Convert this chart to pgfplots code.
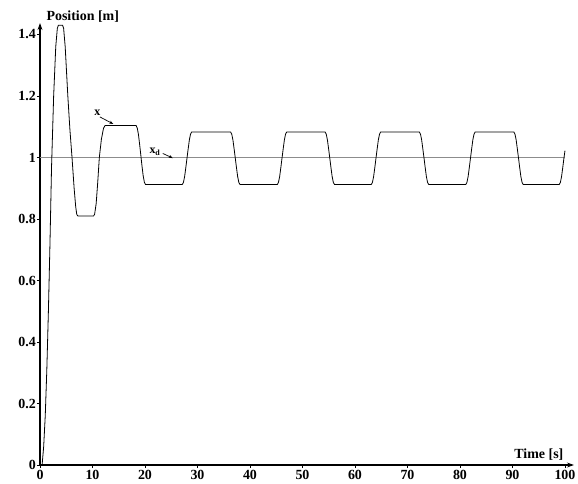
\documentclass[border=0pt]{standalone}
\usepackage{pgfplots}
\pgfplotsset{compat=1.18}
\usepackage{fontspec}
\setmainfont{Liberation Serif}
\usetikzlibrary{arrows.meta}

\begin{document}
\begin{tikzpicture}
\begin{axis}[
  at={(0,0)}, anchor=origin,
  scale only axis,
  width=533.9bp, height=441.9bp,
  xmin=0, xmax=101.7, ymin=0, ymax=1.437,
  axis lines=left,
  axis line style={line width=2.2bp, -{Stealth[length=7bp,width=5bp]}},
  xtick={0,10,20,30,40,50,60,70,80,90,100},
  ytick={0,0.2,0.4,0.6,0.8,1,1.2,1.4},
  tick align=outside,
  major tick length=3bp,
  tick style={black, line width=0.8bp},
  /pgf/number format/assume math mode=true,
  ticklabel style={font=\fontsize{14}{16}\selectfont\bfseries},
  yticklabel style={inner sep=1bp},
  xticklabel style={inner sep=1bp, yshift=-1bp},
  clip=false,
  ylabel={Position [m]},
  ylabel style={rotate=-90, at={(axis description cs:0,1)}, anchor=base west, xshift=3bp, yshift=3bp, font=\fontsize{14}{16}\selectfont\bfseries},
  xlabel={Time [s]},
  xlabel style={at={(axis description cs:1,0)}, anchor=base east, xshift=-7bp, yshift=7bp, font=\fontsize{14}{16}\selectfont\bfseries},
]
% reference x_d
\addplot[color={rgb,255:red,140;green,140;blue,140}, line width=1.4bp] coordinates {(0,1) (100,1)};
% response x
\addplot[black, line width=0.8bp] coordinates {
(0,0) (0.4,0) (0.7,0.06) (1.0,0.16) (1.3,0.31) (1.6,0.50) (1.9,0.72) (2.2,0.97) (2.6,1.20) (3.0,1.36) (3.3,1.42) (3.5,1.43) (4.3,1.43) (4.5,1.42) (4.8,1.36) (5.3,1.20) (5.7,1.09) (6.1,1.00) (6.5,0.90) (6.8,0.84) (7.0,0.815) (7.2,0.81)
(10.2,0.81) (10.4,0.815) (10.7,0.85) (11.0,0.92) (11.3,1.00) (11.7,1.06) (12.1,1.095) (12.4,1.104)
(18.3,1.104) (18.525,1.096) (18.75,1.075) (18.975,1.043) (19.2,1.008) (19.425,0.973) (19.65,0.941) (19.875,0.920) (20.1,0.912)
(27.1,0.912) (27.325,0.919) (27.55,0.938) (27.775,0.967) (28.0,0.998) (28.225,1.028) (28.45,1.057) (28.675,1.076) (28.9,1.083)
(36.3,1.083) (36.525,1.076) (36.75,1.057) (36.975,1.028) (37.2,0.998) (37.425,0.967) (37.65,0.938) (37.875,0.919) (38.1,0.912)
(45.2,0.912) (45.425,0.919) (45.65,0.938) (45.875,0.967) (46.1,0.998) (46.325,1.028) (46.55,1.057) (46.775,1.076) (47.0,1.083)
(54.3,1.083) (54.525,1.076) (54.75,1.057) (54.975,1.028) (55.2,0.998) (55.425,0.967) (55.65,0.938) (55.875,0.919) (56.1,0.912)
(63.1,0.912) (63.325,0.919) (63.55,0.938) (63.775,0.967) (64.0,0.998) (64.225,1.028) (64.45,1.057) (64.675,1.076) (64.9,1.083)
(72.25,1.083) (72.475,1.076) (72.7,1.057) (72.925,1.028) (73.15,0.998) (73.375,0.967) (73.6,0.938) (73.825,0.919) (74.05,0.912)
(81.1,0.912) (81.325,0.919) (81.55,0.938) (81.775,0.967) (82.0,0.998) (82.225,1.028) (82.45,1.057) (82.675,1.076) (82.9,1.083)
(90.25,1.083) (90.475,1.076) (90.7,1.057) (90.925,1.028) (91.15,0.998) (91.375,0.967) (91.6,0.938) (91.825,0.919) (92.05,0.912)
(98.9,0.912) (99.125,0.919) (99.35,0.938) (99.575,0.967) (99.8,0.998) (100.0,1.022)
};
% annotations
\node[font=\fontsize{12}{14}\selectfont\bfseries, inner sep=0pt] at (axis cs:10.95,1.145) {x};
\draw[line width=0.7bp, -{Stealth[length=4bp,width=3bp]}] (axis cs:11.4,1.132) -- (axis cs:13.96,1.109);
\node[font=\fontsize{12}{14}\selectfont\bfseries, inner sep=0pt] at (axis cs:21.9,1.019) {x\textsubscript{d}};
\draw[line width=0.7bp, -{Stealth[length=4bp,width=3bp]}] (axis cs:23.4,1.013) -- (axis cs:25.3,0.998);
\end{axis}
\pgfresetboundingbox
\path[use as bounding box] (-40bp,-19bp) rectangle (538bp,465bp);
\end{tikzpicture}
\end{document}
